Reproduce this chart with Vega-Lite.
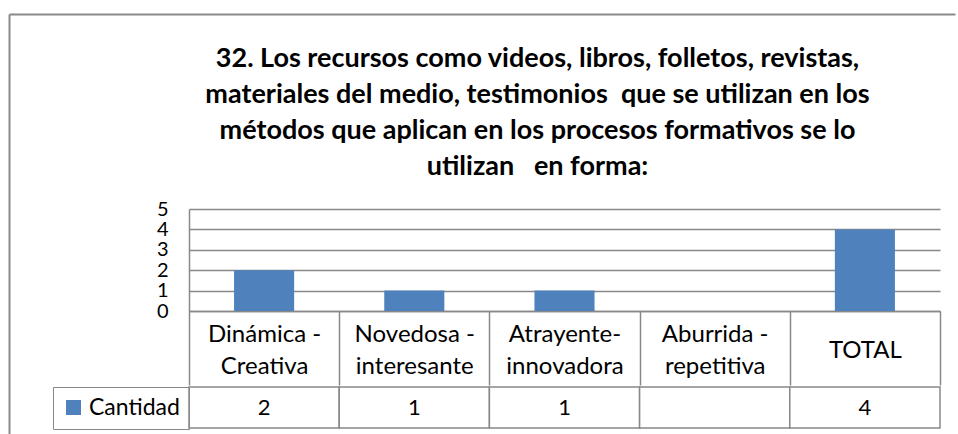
{
  "$schema": "https://vega.github.io/schema/vega-lite/v6.json",
  "padding": {"left": 8, "top": 13, "right": 0, "bottom": 0},
  "background": "white",
  "config": {
    "view": {"stroke": null},
    "font": "Lato",
    "axis": {"labelColor": "black", "labelFont": "Lato"},
    "legend": {"labelColor": "black", "labelFont": "Lato"}
  },
  "datasets": {
    "respuestas": [
      {"categoria": "Dinámica - Creativa", "cantidad": 2, "serie": "Cantidad"},
      {"categoria": "Novedosa - interesante", "cantidad": 1, "serie": "Cantidad"},
      {"categoria": "Atrayente- innovadora", "cantidad": 1, "serie": "Cantidad"},
      {"categoria": "Aburrida - repetitiva", "cantidad": null, "serie": "Cantidad"},
      {"categoria": "TOTAL", "cantidad": 4, "serie": "Cantidad"}
    ]
  },
  "bounds": "flush",
  "spacing": 180,
  "resolve": {"legend": {"color": "independent"}},
  "hconcat": [
    {
      "width": 1,
      "height": 420,
      "data": {"values": [{"borde": 0}, {"borde": 1}]},
      "mark": {"type": "point", "size": 0, "opacity": 0},
      "encoding": {
        "y": {
          "field": "borde",
          "type": "quantitative",
          "scale": {"domain": [0, 1], "nice": false, "zero": false},
          "axis": {
            "orient": "right",
            "values": [1],
            "labels": false,
            "title": null,
            "grid": false,
            "tickSize": 946,
            "tickWidth": 2,
            "tickColor": "#8a8a8a",
            "domainColor": "#8a8a8a",
            "domainWidth": 2
          }
        }
      }
    },
    {
      "spacing": 0,
      "resolve": {"legend": {"color": "independent"}},
      "vconcat": [
        {
          "width": 751,
          "height": 31,
          "data": {"values": [{"borde": 0}]},
          "mark": {"type": "point", "size": 0, "opacity": 0},
          "encoding": {}
        },
        {
          "width": 751,
          "height": 102,
          "title": {
            "text": [
              "32. Los recursos como videos, libros, folletos, revistas,",
              "materiales del medio, testimonios \u00a0que se utilizan en los",
              "métodos que aplican en los procesos formativos se lo",
              "utilizan \u00a0\u00a0en forma:"
            ],
            "font": "Lato",
            "fontSize": 27,
            "fontWeight": "bold",
            "lineHeight": 36,
            "color": "black",
            "anchor": "middle",
            "frame": "group",
            "dx": -27,
            "offset": 18
          },
          "data": {"name": "respuestas"},
          "encoding": {
            "x": {
              "field": "categoria",
              "type": "nominal",
              "sort": null,
              "scale": {"paddingInner": 0, "paddingOuter": 0},
              "axis": {
                "title": null,
                "labelAngle": 0,
                "domainColor": "#888888",
                "domainWidth": 1.5,
                "tickColor": "#888888",
                "tickWidth": 1.5,
                "tickBand": "extent",
                "tickSize": 74,
                "labelExpr": "indexof(datum.label, '-') < 0 ? ['\u2800', datum.label] : split(replace(datum.label, '- ', '-|\u2800|'), '|')",
                "labelBaseline": "middle",
                "labelPadding": -51,
                "labelFontSize": 24,
                "labelLineHeight": 16,
                "labelLimit": 0,
                "labelOverlap": false
              }
            }
          },
          "layer": [
            {
              "mark": {"type": "point", "size": 0, "opacity": 0}
            },
            {
              "mark": {"type": "bar", "color": "#4F81BD", "width": {"band": 0.4}},
              "encoding": {
                "y": {
                  "field": "cantidad",
                  "type": "quantitative",
                  "scale": {"domain": [0, 5], "nice": false},
                  "axis": {
                    "title": null,
                    "values": [0, 1, 2, 3, 4, 5],
                    "ticks": false,
                    "domainColor": "#888888",
                    "domainWidth": 1.5,
                    "gridColor": "#888888",
                    "gridWidth": 1.5,
                    "labelPadding": 21,
                    "labelFontSize": 20,
                    "labelOverlap": false
                  }
                }
              }
            }
          ]
        },
        {
          "width": 751,
          "height": 41,
          "data": {"name": "respuestas"},
          "layer": [
            {
              "mark": {"type": "rect", "fill": "white", "stroke": "#888888", "strokeWidth": 1.5},
              "encoding": {
                "x": {"field": "categoria", "type": "nominal", "sort": null, "scale": {"paddingInner": 0, "paddingOuter": 0}, "axis": null}
              }
            },
            {
              "mark": {"type": "rect", "opacity": 0},
              "encoding": {
                "x": {"field": "categoria", "type": "nominal", "sort": null, "axis": null},
                "color": {
                  "field": "serie",
                  "type": "nominal",
                  "scale": {"range": ["#4F81BD"]},
                  "legend": {
                    "title": null,
                    "orient": "left",
                    "offset": 0,
                    "padding": 9,
                    "strokeColor": "#888888",
                    "symbolType": "square",
                    "symbolSize": 225,
                    "symbolOpacity": 1,
                    "symbolStrokeWidth": 0,
                    "labelFontSize": 23,
                    "labelOffset": 4,
                    "labelLimit": 0
                  }
                }
              }
            },
            {
              "transform": [{"filter": "isValid(datum.cantidad)"}],
              "mark": {"type": "text", "font": "Lato", "fontSize": 22, "color": "black", "baseline": "middle"},
              "encoding": {
                "x": {"field": "categoria", "type": "nominal", "sort": null, "axis": null},
                "text": {"field": "cantidad", "type": "quantitative"}
              }
            }
          ]
        }
      ]
    }
  ]
}
